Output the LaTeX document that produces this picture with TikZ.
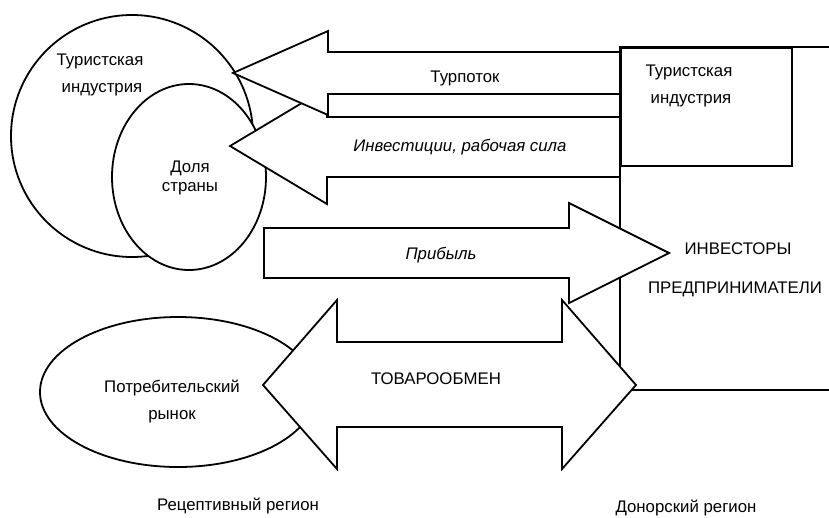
\documentclass[tikz,border=0pt]{standalone}
\usepackage{fontspec}
\setmainfont{Liberation Sans}
\usetikzlibrary{shapes.geometric}
\begin{document}
\begin{tikzpicture}[x=1pt,y=-1pt,line width=1.8pt,line join=miter,
  lbl/.style={inner sep=0pt,anchor=base,font=\fontsize{16.8}{20}\selectfont},
  ilbl/.style={inner sep=0pt,anchor=base,font=\fontsize{16.8}{20}\selectfont\itshape},
  blk/.style={draw=black,fill=white}]
\useasboundingbox (0,0) rectangle (829,517);
% donor region frame
\draw (829,47) -- (620,47) -- (620,390) -- (829,390);
\node[draw,minimum width=171pt,minimum height=118pt,inner sep=0pt,anchor=north west] (tibox) at (620,47) {};
% circles
\node[circle,draw,fill=white,minimum size=242pt,inner sep=0pt] (tic) at (132,136) {};
\node[ellipse,draw,fill=white,minimum width=154pt,minimum height=186pt,inner sep=0pt] (dol) at (189,177) {};
\node[ellipse,draw,fill=white,minimum width=276pt,minimum height=150pt,inner sep=0pt] (pot) at (178,392) {};
% arrows
\draw[blk] (620,117) -- (327,117) -- (327,88) -- (230,146) -- (327,204) -- (327,177) -- (620,177) -- cycle;
\draw[blk] (620,52) -- (328,52) -- (328,31) -- (233,73) -- (328,115) -- (328,94) -- (620,94) -- cycle;
\draw[blk] (264,228) -- (569,228) -- (569,203) -- (669,253) -- (569,303) -- (569,278) -- (264,278) -- cycle;
\draw[blk] (263,385) -- (337,300) -- (337,342) -- (562,342) -- (562,300) -- (636,385) -- (562,469) -- (562,427) -- (337,427) -- (337,469) -- cycle;
% labels
\node[lbl] (t1a) at (100,65) {Туристская};
\node[lbl] (t1b) at (102,92) {индустрия};
\node[lbl] (t2a) at (190,172) {Доля};
\node[lbl] (t2b) at (190,191) {страны};
\node[lbl] (t3a) at (689,76) {Туристская};
\node[lbl] (t3b) at (691,103) {индустрия};
\node[lbl] (t4) at (465,82) {Турпоток};
\node[ilbl] (t5) at (460,151) {Инвестиции, рабочая сила};
\node[ilbl] (t6) at (441,259) {Прибыль};
\node[lbl] (t7a) at (738,254) {ИНВЕСТОРЫ};
\node[lbl] (t7b) at (735,293) {ПРЕДПРИНИМАТЕЛИ};
\node[lbl] (t8) at (436,384) {ТОВАРООБМЕН};
\node[lbl] (t9a) at (172,392) {Потребительский};
\node[lbl] (t9b) at (172,419) {рынок};
\node[lbl] (t10) at (238,510) {Рецептивный регион};
\node[lbl] (t11) at (686,512) {Донорский регион};
\end{tikzpicture}
\end{document}
